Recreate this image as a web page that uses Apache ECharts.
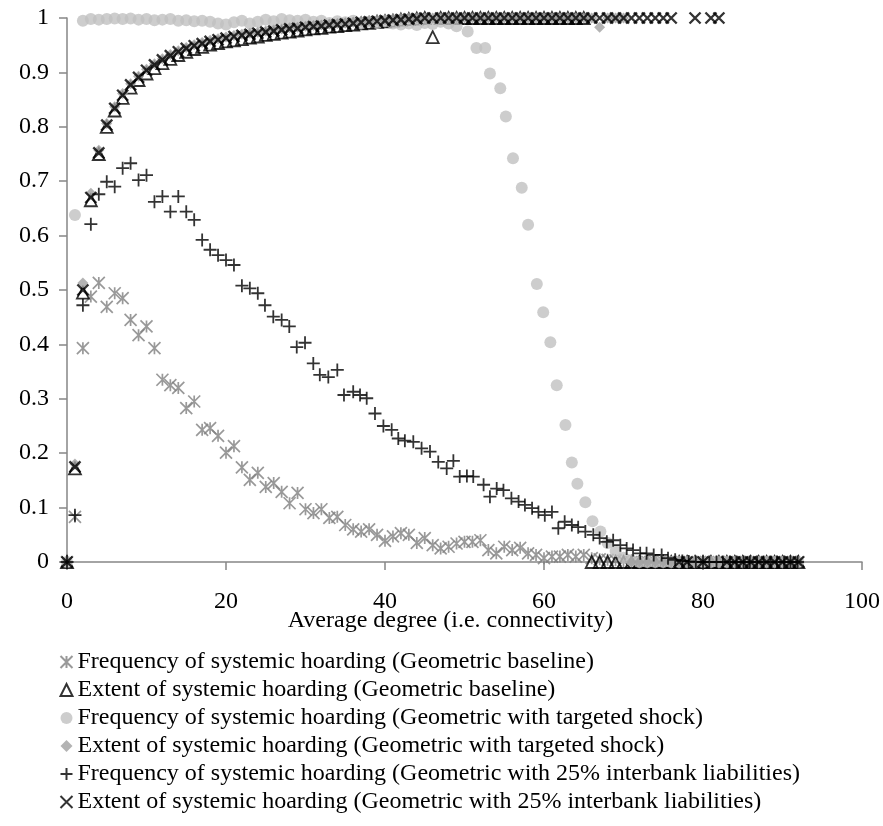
<!DOCTYPE html>
<html>
<head>
<meta charset="utf-8">
<script src="https://cdn.jsdelivr.net/npm/echarts@6/dist/echarts.min.js"></script>
<style>html,body{margin:0;padding:0;background:#fff}#c{width:883px;height:826px}</style>
</head>
<body>
<div id="c"></div>
<script>
// shared average-degree positions (integer sweep)
const xBase = [0,1,2,3,4,5,6,7,8,9,10,11,12,13,14,15,16,17,18,19,20,21,22,23,24,25,26,27,28,29,30,31,32,33,34,35,36,37,38,39,40,41,42,43,44,45,46,47,48,49,50,51,52,53,54,55,56,57,58,59,60,61,62,63,64,65,66,67,68,69,70,71,72,73,74,75,76,77,78,79,80,81,82,83,84,85,86,87,88,89,90,91,92];

const freqBaseline = [0,0.083,0.393,0.488,0.513,0.469,0.494,0.485,0.445,0.417,
0.433,0.393,0.335,0.325,0.32,0.283,0.295,0.243,0.246,0.232,
0.201,0.213,0.174,0.151,0.164,0.138,0.145,0.129,0.108,0.127,
0.097,0.09,0.097,0.081,0.083,0.068,0.06,0.056,0.06,0.05,
0.039,0.047,0.053,0.05,0.035,0.044,0.031,0.025,0.028,0.034,
0.037,0.037,0.04,0.022,0.016,0.028,0.022,0.026,0.016,0.013,
0.007,0.01,0.01,0.013,0.01,0.013,0.007,0.005,0.004,0.003,
0.002,0,0,0,0,0,0,0,0,0,
0,0,0,0,0,0,0,0,0,0,
0,0,0];

const extentBaseline = [0,0.172,0.495,0.665,0.75,0.8,0.83,0.853,0.872,0.886,
0.898,0.908,0.917,0.925,0.932,0.938,0.943,0.947,0.951,0.954,
0.957,0.959,0.961,0.964,0.966,0.969,0.971,0.973,0.975,0.977,
0.979,0.981,0.982,0.984,0.985,0.987,0.988,0.99,0.991,0.993,
0.994,0.995,0.997,0.998,0.999,1,0.965,1,1,1,
1,1,1,1,1,1,1,1,1,1,
1,1,1,1,1,1,0,0,0,0,
0,0,0,0,0,0,0,0,0,0,
0,0,0,0,0,0,0,0,0,0,
0,0,0];

const circX = [0,1,2,3,4,5,6,7,8,9,10,11,12,13,14,15,16,17,18,19,20,21,22,23,24,25,26,27,28,29,30,31,32,33,34,35,36,37,38,39,40,41,42,43,44,45,46,47,48,49,
50.4,51.5,52.6,53.2,54.5,55.2,56.1,57.2,58,59.1,59.9,60.8,61.6,62.7,63.5,64.2,65.2,66.1,67.1,68,69,70,71,
72,73,74,75,76,77,78,79,80,81,82,83,84,85,86,87,88,89,90,91,92];
const freqTargeted = [0,0.638,0.995,0.998,0.997,0.998,0.999,0.998,0.999,0.997,
0.998,0.996,0.997,0.998,0.995,0.996,0.994,0.995,0.993,0.99,
0.988,0.992,0.995,0.99,0.993,0.997,0.994,0.998,0.996,0.995,
0.997,0.993,0.995,0.991,0.994,0.992,0.995,0.99,0.993,0.991,
0.994,0.99,0.988,0.99,0.987,0.991,0.989,0.993,0.99,0.985,
0.975,0.945,0.945,0.898,0.871,0.819,0.742,0.688,0.62,0.511,0.459,0.404,0.325,0.252,0.183,0.144,0.11,0.075,0.056,0.035,0.02,0.008,0.003,
0,0,0,0,0,0,0,0,0,0,0,0,0,0,0,0,0,0,0,0,0];

const extentTargeted = [0,0.18,0.513,0.678,0.757,0.806,0.837,0.861,0.879,0.893,
0.906,0.916,0.925,0.933,0.94,0.946,0.951,0.955,0.959,0.962,
0.965,0.968,0.97,0.972,0.974,0.976,0.978,0.98,0.982,0.983,
0.985,0.986,0.987,0.989,0.99,0.991,0.992,0.994,0.995,0.996,
0.997,0.998,0.999,1,1,1,1,1,1,1,
1,1,1,1,1,1,1,1,1,1,
1,1,1,1,1,1,1,0.983,1,1,
1,0,0,0,0,0,0,0,0,0,
0,0,0,0,0,0,0,0,0,0,
0,0,0];

const plusX = [0,1,2,3,4,5,6,7,8,9,10,11,12,13,14,15,16,17,18,19,20,21,22,23,24,
24.9,25.95,27,27.96,28.9,29.94,30.98,31.8,32.87,34,34.84,36,36.86,37.7,38.74,39.8,40.84,41.67,42.5,43.56,44.6,45.66,46.7,47.76,48.6,49.4,50.3,51.1,52.4,53.2,54.05,54.9,55.9,56.8,57.6,58.5,59.3,60.1,61,61.8,62.6,63.5,64.3,65.2,66.2,67,67.9,68.7,69.6,70.4,71.2,72.1,72.9,73.8,74.8,75.6,76.5,77.4,78.2,79.1,80,80.8,81.7,82.5,83.4,84.2,85.1,85.9,86.8,87.6,88.5,89.3,90.2,91,91.9];
const freqInterbank = [0,0.086,0.472,0.621,0.676,0.699,0.69,0.724,0.733,0.702,0.711,0.662,0.672,0.644,0.672,0.644,0.629,0.592,0.574,0.564,0.555,0.546,0.508,0.503,0.494,
0.472,0.451,0.445,0.433,0.395,0.403,0.365,0.344,0.34,0.353,0.307,0.313,0.307,0.301,0.273,0.25,0.243,0.227,0.223,0.221,0.209,0.203,0.184,0.172,0.186,0.157,0.158,0.157,0.142,0.12,0.135,0.132,0.117,0.111,0.105,0.099,0.092,0.086,0.092,0.062,0.074,0.068,0.064,0.056,0.05,0.044,0.037,0.04,0.031,0.025,0.022,0.016,0.016,0.013,0.013,0.007,0.004,0.002,0.001,0,
0,0,0,0,0,0,0,0,0,0,0,0,0,0,0];

const extentInterbank = [0,0.175,0.5,0.67,0.752,0.803,0.834,0.858,0.877,0.891,
0.904,0.914,0.923,0.931,0.938,0.944,0.949,0.953,0.957,0.96,
0.963,0.966,0.968,0.97,0.972,0.974,0.976,0.978,0.98,0.981,
0.983,0.984,0.985,0.987,0.988,0.989,0.99,0.992,0.993,0.994,
0.995,0.996,0.997,0.998,0.999,1,1,1,1,1,
1,1,1,1,1,1,1,1,1,1,
1,1,1,1,1,1,1,1,1,1,
1,1,1,1,1,1,1,0,0,1,
0,1,1,0,0,0,0,0,0,0,
0,0,0];

const xTicks = {min:0, max:100, step:20};
const yTicks = {min:0, max:1, step:0.1};

const seriesNames = [
  'Frequency of systemic hoarding (Geometric baseline)',
  'Extent of systemic hoarding (Geometric baseline)',
  'Frequency of systemic hoarding (Geometric with targeted shock)',
  'Extent of systemic hoarding (Geometric with targeted shock)',
  'Frequency of systemic hoarding (Geometric with 25% interbank liabilities)',
  'Extent of systemic hoarding (Geometric with 25% interbank liabilities)'
];

function pairs(xs, ys){ return xs.map((x,i)=>[x, ys[i]]); }

const FONT = 'Liberation Serif';
const chart = echarts.init(document.getElementById('c'), null, {renderer:'canvas'});
chart.setOption({
  animation:false,
  backgroundColor:'#fff',
  grid:{left:67, right:21, top:18, bottom:264, containLabel:false},
  xAxis:{
    type:'value', min:xTicks.min, max:xTicks.max, interval:xTicks.step,
    name:'Average degree (i.e. connectivity)', nameLocation:'middle', nameGap:47,
    nameMoveOverlap:false,
    nameTextStyle:{fontFamily:FONT, fontSize:24, color:'#000', padding:[0,28,0,0]},
    axisLine:{lineStyle:{color:'#868686', width:1.5}},
    axisTick:{show:true, length:8, lineStyle:{color:'#868686', width:1.5}},
    splitLine:{show:false},
    axisLabel:{fontFamily:FONT, fontSize:24, color:'#000', margin:28}
  },
  yAxis:{
    type:'value', min:yTicks.min, max:yTicks.max, interval:yTicks.step,
    axisLine:{show:true, lineStyle:{color:'#868686', width:1.5}},
    axisTick:{show:true, length:8, lineStyle:{color:'#868686', width:1.5}},
    splitLine:{show:false},
    axisLabel:{fontFamily:FONT, fontSize:24, color:'#000', margin:18}
  },
  legend:{
    orient:'vertical', left:58, top:650, height:176, itemGap:4, itemWidth:12, itemHeight:12,
    padding:0,
    textStyle:{fontFamily:FONT, fontSize:24, color:'#000'},
    data:seriesNames
  },
  series:[
    {name:seriesNames[0], type:'scatter', symbol:'path://M0,0L10,10M10,0L0,10M5,0L5,10', symbolSize:12,
      itemStyle:{color:'none', borderColor:'#808080', borderWidth:1.7},
      data:pairs(xBase, freqBaseline)},
    {name:seriesNames[1], type:'scatter', symbol:'triangle', symbolSize:12,
      itemStyle:{color:'rgba(255,255,255,0)', borderColor:'#000', borderWidth:1.8},
      data:pairs(xBase, extentBaseline)},
    {name:seriesNames[2], type:'scatter', symbol:'circle', symbolSize:12,
      itemStyle:{color:'#c0c0c0'},
      data:pairs(circX, freqTargeted)},
    {name:seriesNames[3], type:'scatter', symbol:'diamond', symbolSize:11,
      itemStyle:{color:'#a0a0a0'},
      data:pairs(xBase, extentTargeted)},
    {name:seriesNames[4], type:'scatter', symbol:'path://M5,0L5,10M0,5L10,5', symbolSize:13,
      itemStyle:{color:'none', borderColor:'#000', borderWidth:1.8},
      data:pairs(plusX, freqInterbank)},
    {name:seriesNames[5], type:'scatter', symbol:'path://M0,0L10,10M10,0L0,10', symbolSize:11,
      itemStyle:{color:'none', borderColor:'#000', borderWidth:2.4},
      data:pairs(xBase, extentInterbank)}
  ]
});
</script>
</body>
</html>
